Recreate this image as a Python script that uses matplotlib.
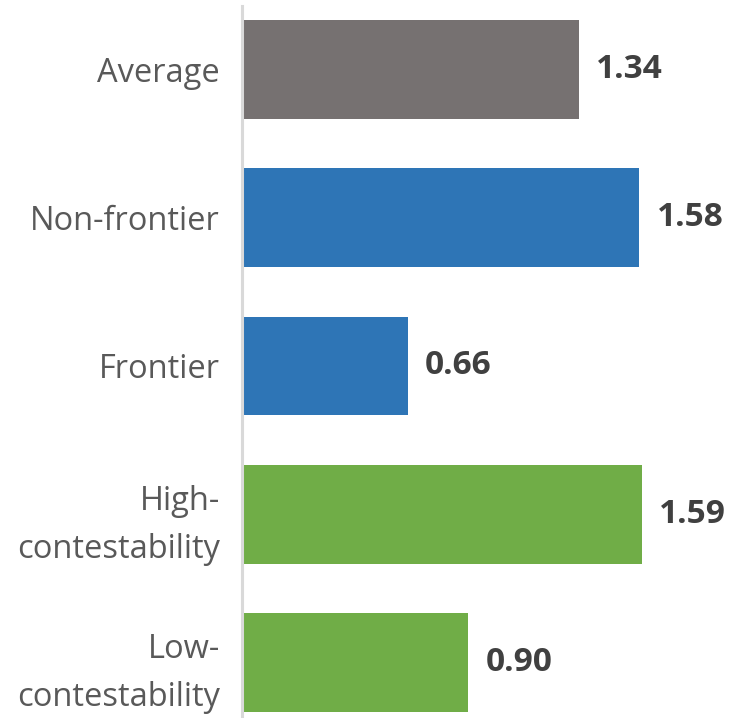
import matplotlib
matplotlib.use('Agg')
import matplotlib.pyplot as plt

categories = ['Average', 'Non-frontier', 'Frontier', 'High-\ncontestability', 'Low-\ncontestability']
values = [1.34, 1.58, 0.66, 1.59, 0.90]
colors = ['#767171', '#2E75B6', '#2E75B6', '#70AD47', '#70AD47']

plt.rcParams['font.family'] = ['Open Sans', 'DejaVu Sans']

W, H = 729, 718
fig = plt.figure(figsize=(W / 100, H / 100), dpi=100)
# axes placed in pixel terms: y axis line at x=242, plot spans y=6..718
ax = fig.add_axes([242 / W, 0, 480 / W, 712 / H])

pos = list(range(len(categories)))
ax.barh(pos, values, height=0.667, color=colors)

ax.set_xlim(0, 480 / 251.5)
ax.set_ylim((718 - 69.5) / 148.25, -(69.5 - 6) / 148.25)

for p, v in zip(pos, values):
    ax.text(v + 0.068, p, '%.2f' % v, va='center', ha='left',
            fontsize=24, fontweight='bold', color='#404040')

ax.set_yticks(pos)
ax.set_yticklabels(categories, fontsize=23.5, color='#595959', linespacing=1.6)
ax.tick_params(axis='y', length=0, pad=16)
ax.set_xticks([])
for s in ['top', 'right', 'bottom']:
    ax.spines[s].set_visible(False)
ax.spines['left'].set_color('#D9D9D9')
ax.spines['left'].set_linewidth(2.2)

fig.savefig('out.png', dpi=100)
